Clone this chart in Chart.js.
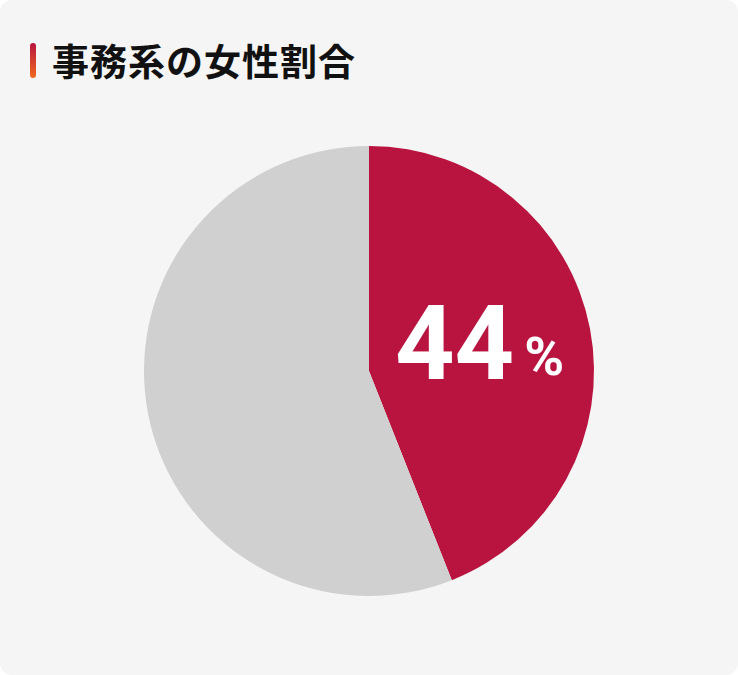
<!DOCTYPE html>
<html lang="ja">
<head>
<meta charset="utf-8">
<script src="https://cdn.jsdelivr.net/npm/chart.js@4"></script>
<style>
  html, body { margin: 0; padding: 0; background: #ffffff; }
  .card {
    position: relative;
    width: 738px;
    height: 675px;
    background: #f5f5f5;
    border-radius: 12px;
    overflow: hidden;
  }
  .title {
    position: absolute;
    left: 30px;
    top: 37px;
    display: flex;
    align-items: center;
    font-family: "Noto Sans CJK JP", sans-serif;
    font-weight: 700;
    font-size: 37px;
    letter-spacing: 1px;
    color: #111;
    line-height: 46px;
  }
  .title .bar {
    width: 6px;
    height: 35px;
    border-radius: 3px;
    background: linear-gradient(#b8143f, #f06a1e);
    margin-right: 16px;
  }
  .chart-box {
    position: absolute;
    left: 0;
    top: 146px;
    width: 738px;
    height: 450px;
  }
</style>
</head>
<body>
<div class="card">
  <div class="title"><span class="bar"></span>事務系の女性割合</div>
  <div class="chart-box"><canvas id="myChart"></canvas></div>
</div>
<script>
const labels = ['女性', 'その他'];
const values = [44, 56];
const colors = ['#b8143f', '#d0d0d0'];

// draws the big "44%" inside the first slice
const valueLabel = {
    id: 'valueLabel',
    afterDatasetsDraw(chart) {
        const arc = chart.getDatasetMeta(0).data[0];
        const pos = arc.tooltipPosition();
        const ctx = chart.ctx;
        const num = String(values[0]);
        ctx.save();
        ctx.fillStyle = '#ffffff';
        ctx.textBaseline = 'alphabetic';
        ctx.font = 'bold 104px Roboto, sans-serif';
        const w1 = ctx.measureText(num).width;
        ctx.font = 'bold 54px Roboto, sans-serif';
        const w2 = ctx.measureText('%').width;
        const gap = 10;
        let x = pos.x - (w1 + gap + w2) / 2;
        const y = pos.y + 29;
        ctx.font = 'bold 104px Roboto, sans-serif';
        ctx.fillText(num, x, y);
        ctx.font = 'bold 54px Roboto, sans-serif';
        ctx.fillText('%', x + w1 + gap, y - 4);
        ctx.restore();
    }
};

const data = {
    labels: labels,
    datasets: [{
        data: values,
        backgroundColor: colors,
        borderWidth: 0,
        hoverOffset: 0,
    }]
};

const config = {
    type: 'pie',
    data: data,
    options: {
        responsive: true,
        maintainAspectRatio: false,
        animation: false,
        layout: { padding: 0 },
        plugins: {
            legend: { display: false },
            tooltip: { enabled: false }
        }
    },
    plugins: [valueLabel]
};

const myChart = new Chart(
    document.getElementById('myChart'),
    config
);
</script>
</body>
</html>
